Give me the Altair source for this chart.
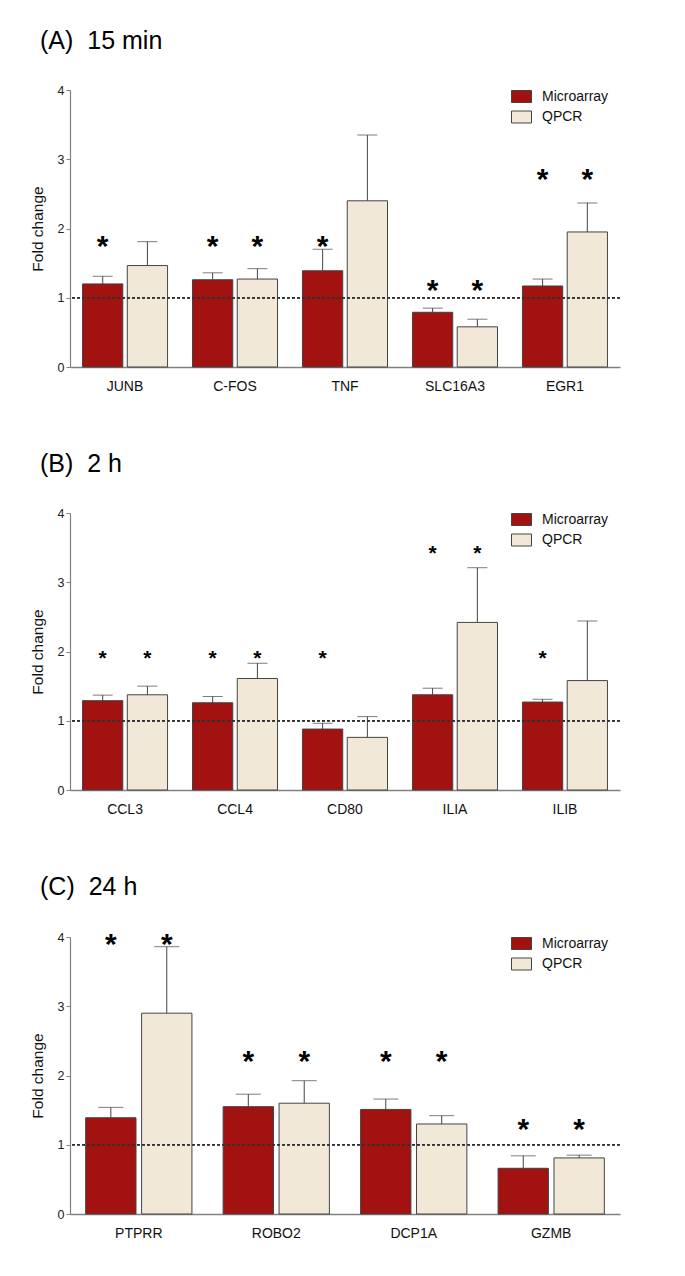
import altair as alt
import pandas as pd

FONT = "Liberation Sans"
methods = ["Microarray", "QPCR"]
colors = ["#a11210", "#f2e8d8"]

# Panel A: 15 min
genes_a = ["JUNB", "C-FOS", "TNF", "SLC16A3", "EGR1"]
micro_a = [1.20, 1.26, 1.39, 0.79, 1.17]
micro_up_a = [1.31, 1.36, 1.70, 0.85, 1.27]
qpcr_a = [1.465, 1.27, 2.40, 0.58, 1.95]
qpcr_up_a = [1.81, 1.42, 3.35, 0.69, 2.37]
star_m_a = [1.83, 1.83, 1.83, 1.20, 2.80]
star_q_a = [None, 1.83, None, 1.20, 2.80]

# Panel B: 2 h
genes_b = ["CCL3", "CCL4", "CD80", "ILIA", "ILIB"]
micro_b = [1.29, 1.26, 0.88, 1.375, 1.27]
micro_up_b = [1.37, 1.35, 0.965, 1.47, 1.31]
qpcr_b = [1.375, 1.61, 0.76, 2.42, 1.58]
qpcr_up_b = [1.50, 1.83, 1.06, 3.21, 2.44]
star_m_b = [1.97, 1.97, 1.97, 3.48, 1.97]
star_q_b = [1.97, 1.97, None, 3.48, None]

# Panel C: 24 h
genes_c = ["PTPRR", "ROBO2", "DCP1A", "GZMB"]
micro_c = [1.39, 1.55, 1.51, 0.66]
micro_up_c = [1.54, 1.73, 1.66, 0.84]
qpcr_c = [2.90, 1.60, 1.30, 0.81]
qpcr_up_c = [3.86, 1.925, 1.42, 0.85]
star_m_c = [3.98, 2.30, 2.30, 1.31]
star_q_c = [3.98, 2.30, 2.30, 1.31]


def panel(title, genes, micro, micro_up, qpcr, qpcr_up, s_m, s_q, star_fs, cap):
    rows = []
    for i, g in enumerate(genes):
        rows.append(dict(gene=g, method="Microarray", value=micro[i], upper=micro_up[i], star=s_m[i]))
        rows.append(dict(gene=g, method="QPCR", value=qpcr[i], upper=qpcr_up[i], star=s_q[i]))
    df = pd.DataFrame(rows)

    base = alt.Chart(df).encode(
        x=alt.X("gene:N", sort=genes, title=None,
                scale=alt.Scale(paddingInner=0.227, paddingOuter=0.114),
                axis=alt.Axis(labelAngle=0, ticks=False, domainColor="#808080", domainWidth=1.5,
                              labelFontSize=14, labelFont=FONT, labelColor="#111", labelPadding=12)),
        xOffset=alt.XOffset("method:N", sort=methods,
                            scale=alt.Scale(domain=methods, paddingInner=0.1, paddingOuter=0)),
    )
    bars = base.mark_bar(stroke="#444", strokeWidth=1).encode(
        y=alt.Y("value:Q", title="Fold change",
                scale=alt.Scale(domain=[0, 4], nice=False),
                axis=alt.Axis(values=[0, 1, 2, 3, 4], format="d", tickSize=4, tickColor="#808080",
                              domainColor="#808080", domainWidth=1.2, labelFontSize=12.5, labelFont=FONT,
                              labelColor="#222", labelPadding=2, titleFontSize=15.5, titleFont=FONT,
                              titleFontWeight="normal", titleColor="#111", titlePadding=12, grid=False)),
        color=alt.Color("method:N", scale=alt.Scale(domain=methods, range=colors),
                        legend=alt.Legend(title=None, orient="none", legendX=441, legendY=-4,
                                          symbolType="M-1,-0.6H1V0.6H-1Z", symbolSize=400,
                                          symbolStrokeColor="#444", symbolStrokeWidth=1,
                                          symbolOpacity=1, labelFontSize=14, labelFont=FONT,
                                          labelColor="#111", labelOffset=10, rowPadding=1.5,
                                          padding=0)),
    )
    err = base.mark_rule(color="#444", strokeWidth=1).encode(y="value:Q", y2="upper:Q")
    caps = base.mark_tick(orient="horizontal", size=cap, thickness=1, color="#444").encode(y="upper:Q")
    stars = base.transform_filter("isValid(datum.star)").mark_text(
        text="*", font=FONT, fontSize=star_fs, fontWeight="bold", baseline="alphabetic",
        dy=round(0.52 * star_fs), color="black").encode(y="star:Q")
    ref = alt.Chart(df).mark_rule(strokeDash=[3, 2], color="#333", strokeWidth=0.8).encode(y=alt.datum(1))

    return alt.layer(bars, err, caps, stars, ref).properties(
        width=550, height=277,
        title=alt.TitleParams(title, anchor="start", frame="bounds", fontSize=25, font=FONT,
                              fontWeight="normal", color="black", offset=30, dx=10))


pa = panel("(A)\u00a0 15 min", genes_a, micro_a, micro_up_a, qpcr_a, qpcr_up_a, star_m_a, star_q_a, 30, 20)
pb = panel("(B)\u00a0 2 h", genes_b, micro_b, micro_up_b, qpcr_b, qpcr_up_b, star_m_b, star_q_b, 21, 20)
pc = panel("(C)\u00a0 24 h", genes_c, micro_c, micro_up_c, qpcr_c, qpcr_up_c, star_m_c, star_q_c, 30, 25)

chart = alt.vconcat(pa, pb, pc, spacing=59).resolve_scale(
    color="independent", x="independent", xOffset="independent", y="independent"
).configure_view(stroke=None).properties(
    padding={"left": 22, "top": 21, "right": 5, "bottom": 10}
)

chart.save("out.html", embed_options={"renderer": "svg", "actions": False})
